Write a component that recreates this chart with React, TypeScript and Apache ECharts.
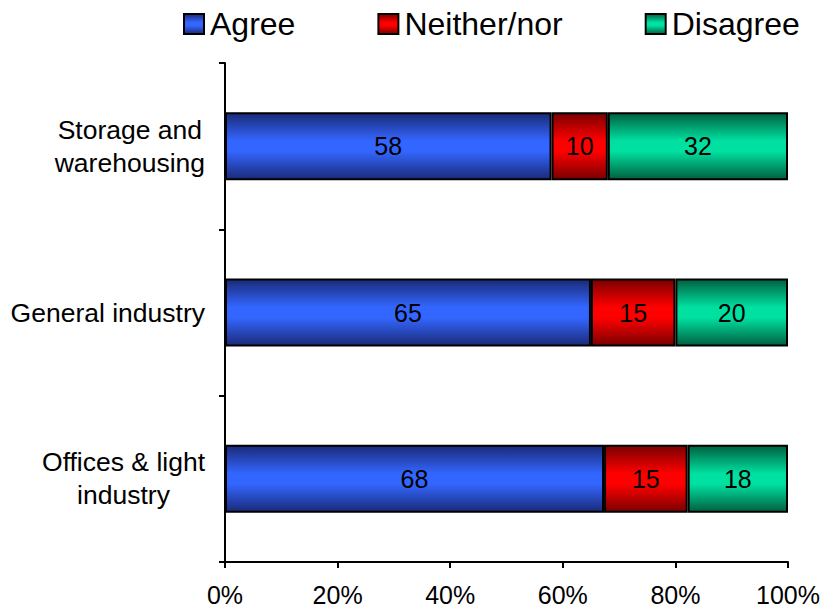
import React, { useEffect, useRef } from "react";
import * as echarts from "echarts";

const categories = ["Storage and\nwarehousing", "General industry", "Offices & light\nindustry"];
const seriesNames = ["Agree", "Neither/nor", "Disagree"];
const agree = [58, 65, 68];
const neither = [10, 15, 15];
const disagree = [32, 20, 18];
const xTicks = [0, 20, 40, 60, 80, 100];

const FONT = "'Liberation Sans', Arial, Helvetica, sans-serif";

const grad = (dark: string, bright: string) =>
  new echarts.graphic.LinearGradient(0, 0, 0, 1, [
    { offset: 0, color: dark },
    { offset: 0.42, color: bright },
    { offset: 0.58, color: bright },
    { offset: 1, color: dark },
  ]);

export default function App() {
  const ref = useRef<HTMLDivElement>(null);
  useEffect(() => {
    if (!ref.current) return;
    const chart = echarts.init(ref.current, undefined, { renderer: "svg" });
    const raw = [agree, neither, disagree];
    const totals = categories.map((_, i) => agree[i] + neither[i] + disagree[i]);
    const colors = [
      ["#1a2a78", "#3366ff"],
      ["#7a0000", "#ff0000"],
      ["#006040", "#00e0a0"],
    ];
    const series = seriesNames.map((name, s) => ({
      name,
      type: "bar",
      stack: "total",
      barWidth: 68,
      data: raw[s].map((v, i) => ({ value: (v / totals[i]) * 100, raw: v })),
      itemStyle: {
        color: grad(colors[s][0], colors[s][1]),
        borderColor: "#000",
        borderWidth: 2,
      },
      label: {
        show: true,
        position: "inside",
        color: "#000",
        fontSize: 25,
        fontFamily: FONT,
        formatter: (p: any) => String(raw[s][p.dataIndex]),
      },
    }));
    chart.setOption({
      animation: false,
      textStyle: { fontFamily: FONT },
      legend: {
        left: 183,
        top: 8,
        padding: 0,
        icon: "rect",
        itemWidth: 20,
        itemHeight: 20,
        itemGap: 82,
        textStyle: { fontSize: 32, color: "#000", fontFamily: FONT, padding: [0, 0, 0, 1] },
        data: seriesNames,
      },
      grid: { left: 225, right: 37, top: 63, bottom: 50, containLabel: false },
      xAxis: {
        type: "value",
        min: 0,
        max: 100,
        interval: 20,
        axisLine: { show: true, lineStyle: { color: "#000", width: 2 } },
        axisTick: { show: true, length: 6, lineStyle: { color: "#000", width: 2 } },
        splitLine: { show: false },
        axisLabel: {
          formatter: (v: number) => (xTicks.includes(v) ? v + "%" : ""),
          fontSize: 25,
          color: "#000",
          fontFamily: FONT,
          margin: 20,
        },
      },
      yAxis: {
        type: "category",
        inverse: true,
        data: categories,
        axisLine: { show: true, lineStyle: { color: "#000", width: 2 } },
        axisTick: { show: true, length: 6, lineStyle: { color: "#000", width: 2 } },
        axisLabel: {
          color: "#000",
          fontSize: 26.5,
          fontFamily: FONT,
          margin: 20,
          lineHeight: 33,
          formatter: (v: string) =>
            v
              .split("\n")
              .map((l) => "{c|" + l + "}")
              .join("\n"),
          rich: {
            c: { align: "center", fontSize: 26.5, fontFamily: FONT, color: "#000", lineHeight: 33 },
          },
        },
      },
      series,
    });
    return () => chart.dispose();
  }, []);
  return <div ref={ref} style={{ width: 825, height: 612, position: "absolute", left: 0, top: 0 }} />;
}
